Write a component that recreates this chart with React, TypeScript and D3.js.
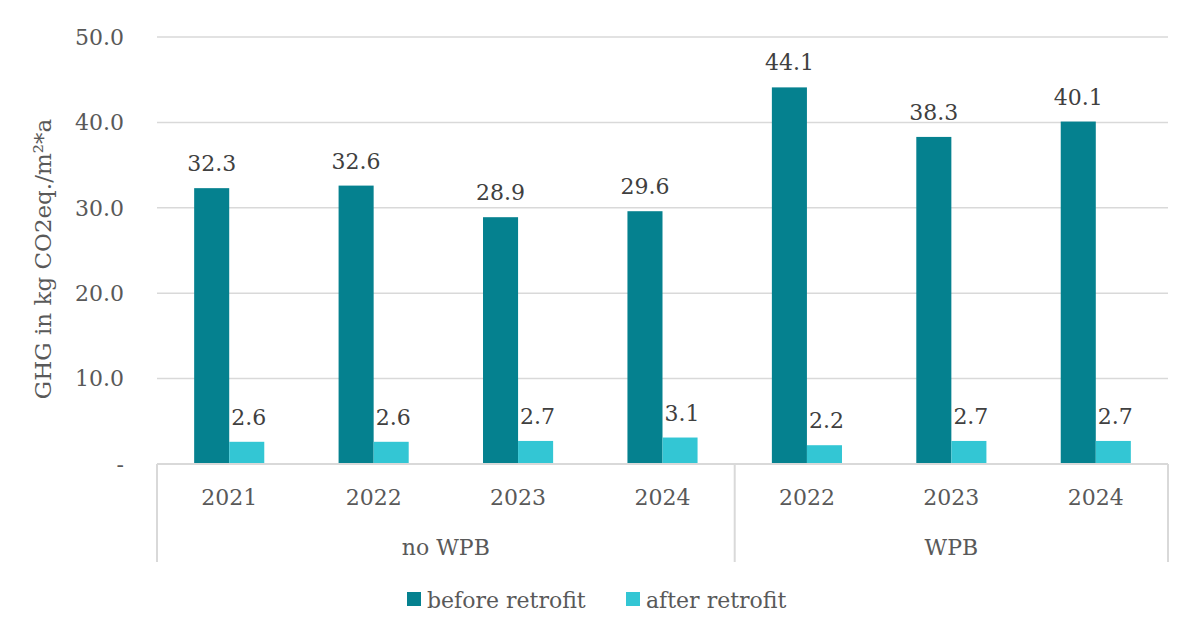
import * as d3 from "d3";

const years = ["2021", "2022", "2023", "2024", "2022", "2023", "2024"];
const groups = ["no WPB", "WPB"];
const groupSizes = [4, 3];
const series = ["before retrofit", "after retrofit"];
const beforeRetrofit = [32.3, 32.6, 28.9, 29.6, 44.1, 38.3, 40.1];
const afterRetrofit = [2.6, 2.6, 2.7, 3.1, 2.2, 2.7, 2.7];
const yTicks = [0, 10, 20, 30, 40, 50];
const colors = ["#05818F", "#33C6D4"];

const width = 1200;
const height = 640;
const marginLeft = 157;
const marginRight = 32;
const marginTop = 37;
const plotBottom = 464;
const font = "'DejaVu Serif', Georgia, serif";

const App = () => {
  const idx = d3.range(years.length);
  const x = d3
    .scaleBand<number>()
    .domain(idx)
    .range([marginLeft, width - marginRight])
    .paddingInner(0)
    .paddingOuter(0);
  const xs = d3
    .scaleBand<string>()
    .domain(series)
    .range([0, x.bandwidth()])
    .paddingInner(0)
    .paddingOuter(1.06);
  const y = d3.scaleLinear([0, 50], [plotBottom, marginTop]);

  const values = [beforeRetrofit, afterRetrofit];

  // group boundaries
  let acc = 0;
  const bounds = [x(0)!];
  const groupCenters: number[] = [];
  groupSizes.forEach((n) => {
    const start = x(acc)!;
    acc += n;
    const end = acc < years.length ? x(acc)! : x.range()[1];
    bounds.push(end);
    groupCenters.push((start + end) / 2);
  });

  return (
    <svg
      width={width}
      height={height}
      style={{ position: "absolute", left: 0, top: 0, background: "#fff" }}
      fontFamily={font}
    >
      <g>
        {yTicks.slice(1).map((t) => (
          <line
            key={t}
            x1={marginLeft}
            x2={width - marginRight}
            y1={y(t)}
            y2={y(t)}
            stroke="#d9d9d9"
            strokeWidth={1.5}
          />
        ))}
        {yTicks.map((t) => (
          <text
            key={t}
            x={124}
            y={y(t)}
            dy="0.35em"
            textAnchor="end"
            fontSize={22}
            fill="#595959"
          >
            {t === 0 ? "-" : d3.format(".1f")(t)}
          </text>
        ))}
      </g>
      <text
        transform={`translate(43,259) rotate(-90)`}
        textAnchor="middle"
        dy="0.35em"
        fontSize={23}
        fill="#595959"
      >
        GHG in kg CO2eq./m²*a
      </text>
      <g>
        {idx.map((i) =>
          series.map((s, si) => {
            const v = values[si][i];
            const bx = x(i)! + xs(s)!;
            return (
              <g key={`${i}-${s}`}>
                <rect
                  x={bx}
                  y={y(v)}
                  width={xs.bandwidth()}
                  height={y(0) - y(v)}
                  fill={colors[si]}
                />
                <text
                  x={bx + xs.bandwidth() / 2 + (si === 1 ? 2 : 0)}
                  y={y(v) - 17}
                  textAnchor="middle"
                  fontSize={22}
                  fill="#404040"
                >
                  {d3.format(".1f")(v)}
                </text>
              </g>
            );
          })
        )}
      </g>
      <g>
        <line
          x1={marginLeft}
          x2={width - marginRight}
          y1={plotBottom}
          y2={plotBottom}
          stroke="#d9d9d9"
          strokeWidth={2}
        />
        {bounds.map((b, i) => (
          <line
            key={i}
            x1={b}
            x2={b}
            y1={plotBottom}
            y2={562}
            stroke="#d9d9d9"
            strokeWidth={2}
          />
        ))}
        {idx.map((i) => (
          <text
            key={i}
            x={x(i)! + x.bandwidth() / 2}
            y={505}
            textAnchor="middle"
            fontSize={22}
            fill="#595959"
          >
            {years[i]}
          </text>
        ))}
        {groups.map((g, i) => (
          <text
            key={g}
            x={groupCenters[i]}
            y={555}
            textAnchor="middle"
            fontSize={22}
            fill="#595959"
          >
            {g}
          </text>
        ))}
      </g>
      <g>
        {series.map((s, i) => {
          const lx = i === 0 ? 407 : 626;
          return (
            <g key={s}>
              <rect x={lx} y={592} width={14} height={14} fill={colors[i]} />
              <text x={lx + 20} y={608} fontSize={22} fill="#595959">
                {s}
              </text>
            </g>
          );
        })}
      </g>
    </svg>
  );
};

export default App;
